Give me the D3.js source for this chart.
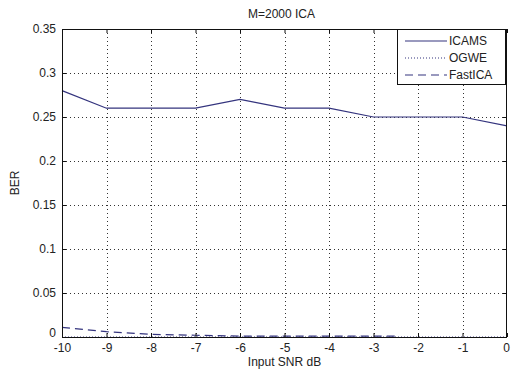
<!DOCTYPE html>
<html><head><meta charset="utf-8">
<script src="https://cdn.jsdelivr.net/npm/d3@7"></script>
<style>body{margin:0;background:#fff}svg{display:block}text{font-family:"Liberation Sans",Arial,sans-serif;fill:#222}</style>
</head><body>
<script>
const snr = [-10,-9,-8,-7,-6,-5,-4,-3,-2,-1,0];
const icams = [0.28,0.26,0.26,0.26,0.27,0.26,0.26,0.25,0.25,0.25,0.24];
const ogwe = [0,0,0,0,0,0,0,0,0,0,0];
const fastX = [-10,-9,-8,-7,-6,-5,-4,-3,-2.5];
const fastica = [0.011,0.006,0.003,0.002,0.001,0.001,0.001,0.001,0.001];
const xTicks = [-10,-9,-8,-7,-6,-5,-4,-3,-2,-1,0];
const yTicks = [0,0.05,0.1,0.15,0.2,0.25,0.3,0.35];
const seriesNames = ["ICAMS","OGWE","FastICA"];

const W=511,H=372, L=62,R=507,T=29,B=337;
const svg=d3.select("body").append("svg").attr("width",W).attr("height",H);
const x=d3.scaleLinear().domain([-10,0]).range([L,R]);
const y=d3.scaleLinear().domain([0,0.35]).range([B,T]);
const col="#34347e";

// grid
svg.append("g").selectAll("line").data(xTicks.slice(1,-1)).join("line")
 .attr("x1",d=>Math.round(x(d))+0.5).attr("x2",d=>Math.round(x(d))+0.5).attr("y1",T).attr("y2",B)
 .attr("stroke","#333").attr("stroke-width",1).attr("stroke-dasharray","1,3");
svg.append("g").selectAll("line").data(yTicks.slice(1,-1)).join("line")
 .attr("y1",d=>Math.round(y(d))+0.5).attr("y2",d=>Math.round(y(d))+0.5).attr("x1",L).attr("x2",R)
 .attr("stroke","#333").attr("stroke-width",1).attr("stroke-dasharray","1,3");

const line=d3.line().x(d=>x(d[0])).y(d=>y(d[1]));
svg.append("path").datum(snr.map((s,i)=>[s,ogwe[i]])).attr("d",line)
 .attr("fill","none").attr("stroke",col).attr("stroke-dasharray","1,2");
svg.append("path").datum(fastX.map((s,i)=>[s,fastica[i]])).attr("d",line)
 .attr("fill","none").attr("stroke",col).attr("stroke-width",1.2).attr("stroke-dasharray","8,5");
svg.append("path").datum(snr.map((s,i)=>[s,icams[i]])).attr("d",line)
 .attr("fill","none").attr("stroke",col).attr("stroke-width",1.2);

// axes
const xa=svg.append("g").attr("transform",`translate(0,${B})`)
 .call(d3.axisBottom(x).tickValues(xTicks).tickSize(-4).tickPadding(6).tickFormat(d=>String(d)));
const xt=svg.append("g").attr("transform",`translate(0,${T})`)
 .call(d3.axisTop(x).tickValues(xTicks).tickSize(-4).tickFormat(""));
const ya=svg.append("g").attr("transform",`translate(${L},0)`)
 .call(d3.axisLeft(y).tickValues(yTicks).tickSize(-4).tickPadding(6).tickFormat(d=>d===0?"0":String(d)));
const yr=svg.append("g").attr("transform",`translate(${R},0)`)
 .call(d3.axisRight(y).tickValues(yTicks).tickSize(-4).tickFormat(""));
[xa,xt,ya,yr].forEach(g=>{g.select(".domain").remove();g.selectAll("line").attr("stroke","#111");
 g.selectAll("text").attr("font-size",12).attr("fill","#222").attr("font-family","Liberation Sans, Arial, sans-serif");});
// keep the "0" y label above the x labels, and the last x label inside the page
ya.selectAll(".tick").filter(d=>d===0).select("text").attr("dy","-0.05em");
xa.selectAll(".tick").filter(d=>d===0).select("text").attr("dx","-1px");
svg.append("rect").attr("x",L+0.5).attr("y",T+0.5).attr("width",R-L-1).attr("height",B-T)
 .attr("fill","none").attr("stroke","#111");

svg.append("text").attr("x",(L+R)/2-3).attr("y",18).attr("text-anchor","middle").attr("font-size",12).text("M=2000 ICA");
svg.append("text").attr("x",(L+R)/2).attr("y",366).attr("text-anchor","middle").attr("font-size",12).text("Input SNR dB");
svg.append("text").attr("transform",`translate(19,${(T+B)/2}) rotate(-90)`).attr("text-anchor","middle").attr("font-size",12).text("BER");

// legend
const lg=svg.append("g");
lg.append("rect").attr("x",397.5).attr("y",T+0.5).attr("width",108).attr("height",55)
 .attr("fill","#fff").attr("stroke","#111");
const dashes=[null,"1,2","8,5"];
seriesNames.forEach((n,i)=>{
 const yy=T+12+i*17;
 lg.append("line").attr("x1",405).attr("x2",447).attr("y1",yy).attr("y2",yy)
  .attr("stroke",col).attr("stroke-width",1.2).attr("stroke-dasharray",dashes[i]);
 lg.append("text").attr("x",449).attr("y",yy+4).attr("font-size",12).text(n);
});
</script>
</body></html>
